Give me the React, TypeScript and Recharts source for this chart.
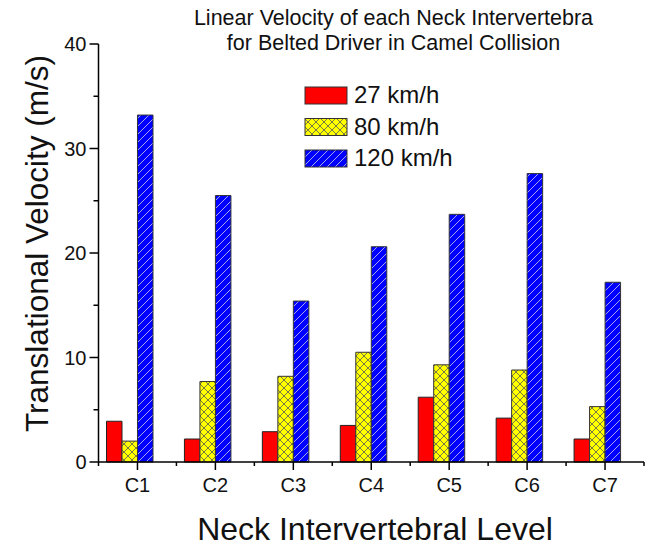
import React from 'react';
import { BarChart, Bar, XAxis, YAxis, Legend } from 'recharts';

const categories = ['C1', 'C2', 'C3', 'C4', 'C5', 'C6', 'C7'];
const v27 = [3.9, 2.2, 2.9, 3.5, 6.2, 4.2, 2.2];
const v80 = [2.0, 7.7, 8.2, 10.5, 9.3, 8.8, 5.3];
const v120 = [33.2, 25.5, 15.4, 20.6, 23.7, 27.6, 17.2];
const yTicks = [0, 5, 10, 15, 20, 25, 30, 35, 40];
const seriesNames = ['27 km/h', '80 km/h', '120 km/h'];
const titleLines = ['Linear Velocity of each Neck Intervertebra', 'for Belted Driver in Camel Collision'];

const data = categories.map((c, i) => ({ cat: c, s27: v27[i], s80: v80[i], s120: v120[i], pad: null }));

const FONT = 'Arial, "Liberation Sans", sans-serif';

const Patterns = ({ prefix }: { prefix: string }) => (
  <defs>
    <pattern id={`${prefix}cross`} width="8" height="8" patternUnits="userSpaceOnUse">
      <rect width="8" height="8" fill="#FFFF00" />
      <path d="M0,0 L8,8 M8,0 L0,8" stroke="#555" strokeWidth="0.8" />
    </pattern>
    <pattern id={`${prefix}diag`} width="8" height="8" patternUnits="userSpaceOnUse">
      <rect width="8" height="8" fill="#0000FF" />
      <path d="M0,8 L8,0 M-2,2 L2,-2 M6,10 L10,6" stroke="#b8b8e8" strokeWidth="0.9" />
    </pattern>
  </defs>
);

const YTick = (props: any) => {
  const { x, y, payload } = props;
  const major = payload.value % 10 === 0;
  const axisX = x + 12;
  return (
    <g>
      <line x1={axisX - (major ? 9 : 5)} x2={axisX} y1={y} y2={y} stroke="#000" strokeWidth={1.5} />
      {major && (
        <text x={x} y={y} dy="0.36em" textAnchor="end" fontSize={20} fontFamily={FONT} fill="#111">
          {payload.value}
        </text>
      )}
    </g>
  );
};

const XTick = (props: any) => {
  const { x, y, payload, index, width, visibleTicksCount } = props;
  const axisY = y - 16;
  const band = width / (visibleTicksCount || categories.length);
  const minors = [x - band / 2];
  if (index === (visibleTicksCount || categories.length) - 1) minors.push(x + band / 2);
  return (
    <g>
      <line x1={x} x2={x} y1={axisY} y2={axisY + 8} stroke="#000" strokeWidth={1.5} />
      {minors.map((mx, i) => (
        <line key={i} x1={mx} x2={mx} y1={axisY} y2={axisY + 4} stroke="#000" strokeWidth={1.5} />
      ))}
      <text x={x} y={y} dy="0.71em" textAnchor="middle" fontSize={20} fontFamily={FONT} fill="#111">
        {payload.value}
      </text>
    </g>
  );
};

const LegendContent = () => {
  const fills = ['#FF0000', 'url(#lgcross)', 'url(#lgdiag)'];
  return (
    <svg width={160} height={90} style={{ overflow: 'visible' }}>
      <Patterns prefix="lg" />
      {seriesNames.map((n, i) => (
        <g key={n}>
          <rect x={1} y={1 + i * 31.5} width={42} height={17} fill={fills[i]} stroke="#333" strokeWidth={1} />
          <text x={50} y={17 + i * 31.5} fontSize={24} fontFamily={FONT} fill="#111">
            {n}
          </text>
        </g>
      ))}
    </svg>
  );
};

export default function App() {
  return (
    <div style={{ position: 'absolute', left: 0, top: 0, width: 649, height: 546, background: '#fff' }}>
      <BarChart
        width={649}
        height={546}
        data={data}
        margin={{ top: 44, right: 5, left: 0, bottom: 0 }}
        barGap={0}
        barCategoryGap={0}
        barSize={15.5}
      >
        <Patterns prefix="ch" />
        <XAxis
          dataKey="cat"
          height={84}
          interval={0}
          tickSize={8}
          tickMargin={8}
          axisLine={{ stroke: '#000', strokeWidth: 1.5 }}
          tickLine={false}
          tick={<XTick />}
          label={(p: any) => (
            <text x={375} y={540} textAnchor="middle" fontSize={32} fontFamily={FONT} fill="#111">
              Neck Intervertebral Level
            </text>
          )}
        />
        <YAxis
          width={98.5}
          domain={[0, 40]}
          ticks={yTicks}
          interval={0}
          tickSize={9}
          tickMargin={3}
          tickLine={false}
          axisLine={{ stroke: '#000', strokeWidth: 1.5 }}
          tick={<YTick />}
          label={(p: any) => (
            <text
              x={48}
              y={243.5}
              transform="rotate(-90 48 243.5)"
              textAnchor="middle"
              fontSize={31.5}
              fontFamily={FONT}
              fill="#111"
            >
              Translational Velocity (m/s)
            </text>
          )}
        />
        <Legend
          layout="vertical"
          align="center"
          verticalAlign="middle"
          content={<LegendContent />}
          wrapperStyle={{ position: 'absolute', left: 304, top: 86, width: 160, height: 90 }}
        />
        <Bar dataKey="s27" name={seriesNames[0]} fill="#FF0000" stroke="#222" strokeWidth={1} isAnimationActive={false} />
        <Bar dataKey="s80" name={seriesNames[1]} fill="url(#chcross)" stroke="#333" strokeWidth={1} isAnimationActive={false} />
        <Bar dataKey="s120" name={seriesNames[2]} fill="url(#chdiag)" stroke="#333" strokeWidth={1} isAnimationActive={false} />
        <Bar dataKey="pad" legendType="none" fill="none" isAnimationActive={false} />
        <text x={393.5} y={25} textAnchor="middle" fontSize={21.5} fontFamily={FONT} fill="#111">
          {titleLines[0]}
        </text>
        <text x={393.5} y={50} textAnchor="middle" fontSize={21.5} fontFamily={FONT} fill="#111">
          {titleLines[1]}
        </text>
      </BarChart>
    </div>
  );
}
